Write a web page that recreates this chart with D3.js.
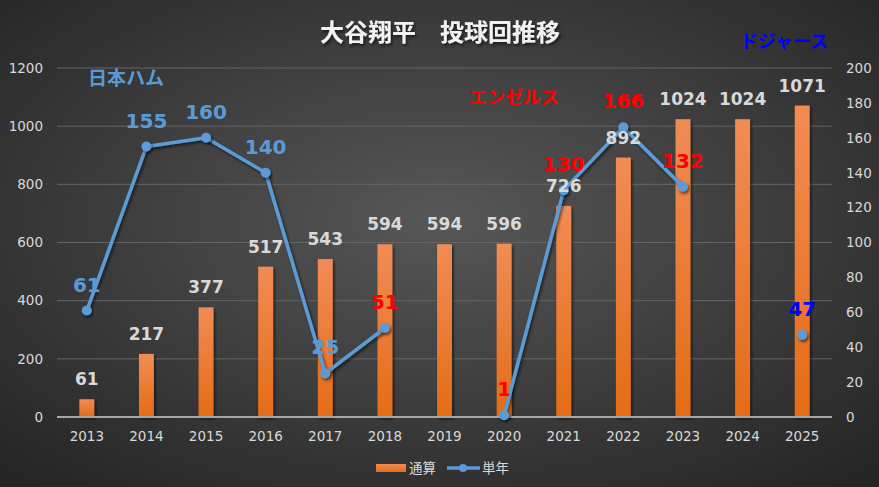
<!DOCTYPE html>
<html>
<head>
<meta charset="utf-8">
<script src="https://cdn.jsdelivr.net/npm/d3@7"></script>
<style>
  html, body { margin: 0; padding: 0; background: #333; }
  svg { display: block; }
</style>
</head>
<body>
<svg id="chart" width="879" height="487"></svg>
<script>
// data
const years = ["2013","2014","2015","2016","2017","2018","2019","2020","2021","2022","2023","2024","2025"];
const totalInnings = [61, 217, 377, 517, 543, 594, 594, 596, 726, 892, 1024, 1024, 1071];   // 通算
const seasonInnings = [61, 155, 160, 140, 25, 51, null, 1, 130, 166, 132, null, 47];       // 単年
const seasonTeam = ["fh","fh","fh","fh","fh","la","la","la","la","la","la","ld","ld"];
const leftTicks = [0, 200, 400, 600, 800, 1000, 1200];
const rightTicks = [0, 20, 40, 60, 80, 100, 120, 140, 160, 180, 200];

const teamColor = { fh: "#5b9bd5", la: "#ff0000", ld: "#0000ff" };
const font = "'DejaVu Sans', Verdana, sans-serif";
const jpFont = "'Noto Sans CJK JP', sans-serif";

const svg = d3.select("#chart");
const W = 879, H = 487;
const m = { left: 57, right: 47, top: 68, bottom: 70 };

// background
const defs = svg.append("defs");
const bg = defs.append("radialGradient").attr("id", "bg")
  .attr("cx", "50%").attr("cy", "45%").attr("r", "70%");
bg.append("stop").attr("offset", "0%").attr("stop-color", "#575757");
bg.append("stop").attr("offset", "100%").attr("stop-color", "#262626");
const barGrad = defs.append("linearGradient").attr("id", "bar")
  .attr("x1", 0).attr("y1", 0).attr("x2", 0).attr("y2", 1);
barGrad.append("stop").attr("offset", "0%").attr("stop-color", "#f18c55");
barGrad.append("stop").attr("offset", "100%").attr("stop-color", "#e46c16");
const sh = defs.append("filter").attr("id", "shadow").attr("x", "-20%").attr("y", "-20%").attr("width", "140%").attr("height", "160%");
sh.append("feDropShadow").attr("dx", 1.5).attr("dy", 2).attr("stdDeviation", 1.5).attr("flood-color", "#000").attr("flood-opacity", 0.6);

svg.append("rect").attr("width", W).attr("height", H).attr("fill", "url(#bg)");

const x = d3.scaleBand().domain(years).range([m.left, W - m.right]).paddingInner(0.75).paddingOuter(0.375);
const xc = d => x(d) + x.bandwidth() / 2;
const yL = d3.scaleLinear().domain([0, 1200]).range([H - m.bottom, m.top]);
const yR = d3.scaleLinear().domain([0, 200]).range([H - m.bottom, m.top]);

// gridlines
svg.append("g").selectAll("line").data(leftTicks.filter(t => t > 0)).join("line")
  .attr("x1", m.left).attr("x2", W - m.right)
  .attr("y1", d => yL(d)).attr("y2", d => yL(d))
  .attr("stroke", "#646464").attr("stroke-width", 1);

// left axis
const axL = svg.append("g").attr("transform", `translate(${m.left},0)`)
  .call(d3.axisLeft(yL).tickValues(leftTicks).tickFormat(d3.format("d")).tickSize(0).tickPadding(14));
axL.select(".domain").remove();
axL.selectAll("text").attr("fill", "#d9d9d9").style("font", `13.5px ${font}`);

// right axis
const axR = svg.append("g").attr("transform", `translate(${W - m.right},0)`)
  .call(d3.axisRight(yR).tickValues(rightTicks).tickSize(0).tickPadding(14));
axR.select(".domain").remove();
axR.selectAll("text").attr("fill", "#d9d9d9").style("font", `13.5px ${font}`);

// bars
svg.append("g").selectAll("rect").data(years).join("rect")
  .attr("x", d => x(d)).attr("width", x.bandwidth())
  .attr("y", (d, i) => yL(totalInnings[i]))
  .attr("height", (d, i) => yL(0) - yL(totalInnings[i]))
  .attr("fill", "url(#bar)")
  .attr("filter", "url(#shadow)");

// zero line
svg.append("line").attr("x1", m.left).attr("x2", W - m.right)
  .attr("y1", yL(0)).attr("y2", yL(0)).attr("stroke", "#a6a6a6").attr("stroke-width", 2);

// bottom axis
const axB = svg.append("g").attr("transform", `translate(0,${yL(0)})`)
  .call(d3.axisBottom(x).tickSize(0).tickPadding(14));
axB.select(".domain").remove();
axB.selectAll("text").attr("fill", "#d9d9d9").style("font", `13.5px ${font}`);

// line
const pts = years.map((d, i) => ({ year: d, v: seasonInnings[i], team: seasonTeam[i] }));
const line = d3.line().defined(d => d.v != null).x(d => xc(d.year)).y(d => yR(d.v));
svg.append("path").datum(pts).attr("d", line)
  .attr("fill", "none").attr("stroke", "#5b9bd5").attr("stroke-width", 3.5)
  .attr("stroke-linejoin", "round").attr("filter", "url(#shadow)");
svg.append("g").selectAll("circle").data(pts.filter(d => d.v != null)).join("circle")
  .attr("cx", d => xc(d.year)).attr("cy", d => yR(d.v)).attr("r", 5)
  .attr("fill", "#5b9bd5").attr("filter", "url(#shadow)");

// bar labels
svg.append("g").selectAll("text").data(years).join("text")
  .attr("x", d => xc(d)).attr("y", (d, i) => yL(totalInnings[i]) - 14)
  .attr("text-anchor", "middle").attr("fill", "#d9d9d9")
  .style("font", `bold 17px ${font}`)
  .text((d, i) => totalInnings[i]);

// line labels
svg.append("g").selectAll("text").data(pts.filter(d => d.v != null)).join("text")
  .attr("x", d => xc(d.year)).attr("y", d => yR(d.v) - 19)
  .attr("text-anchor", "middle").attr("fill", d => teamColor[d.team])
  .style("font", `bold 20px ${font}`)
  .text(d => d.v);

// team annotations
svg.append("text").attr("x", 88).attr("y", 85).attr("fill", teamColor.fh)
  .style("font", `bold 19px ${jpFont}`).text("日本ハム");
svg.append("text").attr("x", 469).attr("y", 104).attr("fill", teamColor.la)
  .style("font", `bold 18px ${jpFont}`).text("エンゼルス");
svg.append("text").attr("x", 740).attr("y", 48).attr("fill", teamColor.ld)
  .style("font", `bold 18px ${jpFont}`).text("ドジャース");

// title
svg.append("text").attr("x", 440).attr("y", 41).attr("text-anchor", "middle")
  .attr("fill", "#f2f2f2").attr("filter", "url(#shadow)")
  .style("font", `bold 24px ${jpFont}`).text("大谷翔平　投球回推移");

// legend
const lg = svg.append("g").attr("transform", "translate(0,468)");
lg.append("rect").attr("x", 376).attr("y", -4).attr("width", 30).attr("height", 8).attr("fill", "url(#bar)");
lg.append("text").attr("x", 409).attr("y", 5).attr("fill", "#d9d9d9")
  .style("font", `13.5px ${jpFont}`).text("通算");
lg.append("line").attr("x1", 447).attr("x2", 480).attr("y1", 0).attr("y2", 0)
  .attr("stroke", "#5b9bd5").attr("stroke-width", 3.5);
lg.append("circle").attr("cx", 463).attr("cy", 0).attr("r", 4).attr("fill", "#5b9bd5");
lg.append("text").attr("x", 482).attr("y", 5).attr("fill", "#d9d9d9")
  .style("font", `13.5px ${jpFont}`).text("単年");
</script>
</body>
</html>
